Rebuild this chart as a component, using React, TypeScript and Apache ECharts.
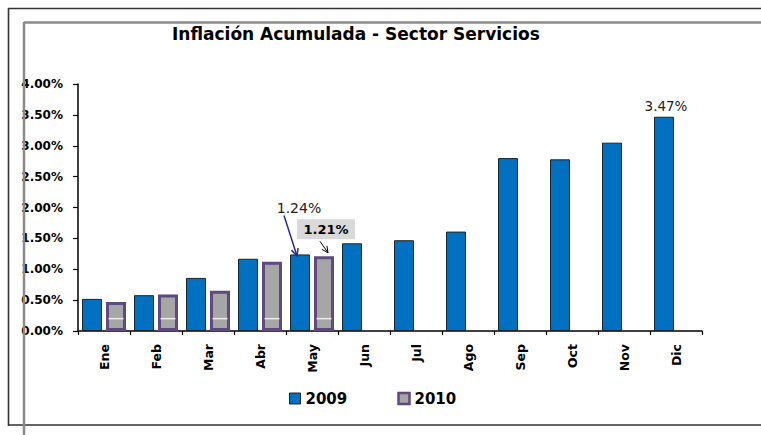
import React, { useEffect, useRef } from "react";
import * as echarts from "echarts";

const categories = ["Ene", "Feb", "Mar", "Abr", "May", "Jun", "Jul", "Ago", "Sep", "Oct", "Nov", "Dic"];
const values2009 = [0.52, 0.58, 0.86, 1.17, 1.24, 1.42, 1.47, 1.61, 2.8, 2.78, 3.05, 3.47];
const values2010 = [0.47, 0.59, 0.65, 1.12, 1.21];
const whiteMarks2010 = [0.2, 0.2, 0.2, 0.2, 0.2];
const yMin = 0;
const yMax = 4;
const yStep = 0.5;
const titleText = "Inflación Acumulada - Sector Servicios";
const seriesNames = ["2009", "2010"];

const FONT = "DejaVu Sans";
const BLUE = "#0070C0";
const GRAY = "#A6A6A6";
const PURPLE = "#5F4A7D";

function arrow(x1: number, y1: number, x2: number, y2: number, color: string, w: number, head: number) {
  const ang = Math.atan2(y2 - y1, x2 - x1);
  const a1 = ang + Math.PI - 0.45;
  const a2 = ang + Math.PI + 0.45;
  return [
    { type: "line", shape: { x1, y1, x2, y2 }, style: { stroke: color, lineWidth: w }, z: 20 },
    {
      type: "polyline",
      shape: {
        points: [
          [x2 + head * Math.cos(a1), y2 + head * Math.sin(a1)],
          [x2, y2],
          [x2 + head * Math.cos(a2), y2 + head * Math.sin(a2)],
        ],
      },
      style: { stroke: color, lineWidth: w, fill: null },
      z: 20,
    },
  ];
}

export default function App() {
  const ref = useRef<HTMLDivElement>(null);
  useEffect(() => {
    if (!ref.current) return;
    const chart = echarts.init(ref.current, null, { renderer: "svg" });
    const fmt = (v: number) => `${v.toFixed(2)}%`;
    chart.setOption({
      animation: false,
      backgroundColor: "#ffffff",
      title: {
        text: titleText,
        left: 172,
        top: 25,
        padding: 0,
        textStyle: { fontFamily: FONT, fontWeight: "bold", fontSize: 17, color: "#000" },
      },
      legend: {
        left: 284,
        top: 386,
        itemWidth: 11,
        itemHeight: 11,
        itemGap: 50,
        icon: "rect",
        textStyle: { fontFamily: FONT, fontWeight: "bold", fontSize: 15, color: "#000" },
        data: [
          { name: seriesNames[0], itemStyle: { borderWidth: 1, borderColor: "#222" } },
          { name: seriesNames[1], itemStyle: { borderWidth: 2.5, borderColor: PURPLE } },
        ],
      },
      grid: { left: 78, right: 59, top: 84, bottom: 104, containLabel: false },
      xAxis: {
        type: "category",
        data: categories,
        axisLine: { lineStyle: { color: "#000", width: 1.5 } },
        axisTick: { show: true, length: 4, lineStyle: { color: "#000", width: 1.2 } },
        axisLabel: {
          rotate: 90,
          margin: 13,
          fontFamily: FONT,
          fontWeight: "bold",
          fontSize: 12.5,
          color: "#000",
        },
      },
      yAxis: {
        type: "value",
        min: yMin,
        max: yMax,
        interval: yStep,
        axisLine: { show: true, lineStyle: { color: "#000", width: 1.5 } },
        axisTick: { show: true, length: 5, lineStyle: { color: "#000", width: 1.2 } },
        splitLine: { show: false },
        axisLabel: {
          margin: 15,
          fontFamily: FONT,
          fontWeight: "bold",
          fontSize: 12,
          color: "#000",
          formatter: (v: number) => fmt(v),
        },
      },
      series: [
        {
          name: seriesNames[0],
          type: "bar",
          barWidth: 20,
          barGap: "20%",
          itemStyle: { color: BLUE, borderColor: "#222", borderWidth: 1 },
          data: values2009.map((v, i) =>
            i === values2009.length - 1
              ? {
                  value: v,
                  label: {
                    show: true,
                    position: "top",
                    distance: 4,
                    offset: [2, 0],
                    fontFamily: FONT,
                    fontSize: 13.5,
                    color: "#222",
                    formatter: (p: any) => fmt(p.value),
                  },
                }
              : v
          ),
        },
        {
          name: seriesNames[1],
          type: "bar",
          barWidth: 20,
          barGap: "20%",
          itemStyle: { color: GRAY, borderColor: PURPLE, borderWidth: 3 },
          data: values2010,
        },
        {
          name: "marks",
          type: "scatter",
          symbol: "rect",
          symbolSize: [15, 1.5],
          symbolOffset: [12, 0],
          itemStyle: { color: "#ffffff" },
          z: 5,
          silent: true,
          data: whiteMarks2010,
        },
      ],
    });

    const p1 = chart.convertToPixel({ gridIndex: 0 }, [categories[4], values2009[4]]) as number[];
    const p2 = chart.convertToPixel({ gridIndex: 0 }, [categories[4], values2010[4]]) as number[];
    const b1x = p1[0] - 12;
    const b1y = p1[1];
    const b2x = p2[0] + 12;
    const b2y = p2[1];

    const graphic: any[] = [
      // outer frame
      { type: "line", shape: { x1: 8.5, y1: 8, x2: 8.5, y2: 426 }, style: { stroke: "#333", lineWidth: 1.6 }, z: 30 },
      { type: "line", shape: { x1: 8, y1: 8.5, x2: 761, y2: 8.5 }, style: { stroke: "#333", lineWidth: 1.6 }, z: 30 },
      { type: "line", shape: { x1: 8, y1: 425, x2: 761, y2: 425 }, style: { stroke: "#333", lineWidth: 1.6 }, z: 30 },
      // inner gray frame
      { type: "line", shape: { x1: 24, y1: 22.5, x2: 761, y2: 22.5 }, style: { stroke: "#8a8a8a", lineWidth: 2.5 }, z: 30 },
      { type: "line", shape: { x1: 24, y1: 22, x2: 24, y2: 435 }, style: { stroke: "#8a8a8a", lineWidth: 2.5 }, z: 30 },
      // 1.24% annotation
      {
        type: "text",
        x: b1x - 1,
        y: b1y - 46,
        style: {
          text: fmt(values2009[4]),
          fontFamily: FONT,
          fontSize: 14,
          fill: "#222",
          align: "center",
          verticalAlign: "middle",
        },
        z: 20,
      },
      ...arrow(b1x - 16, b1y - 39, b1x - 3, b1y + 1.5, "#2B2A8A", 1.5, 8),
      // 1.21% annotation
      {
        type: "rect",
        shape: { x: b2x - 27, y: b2y - 37, width: 58, height: 20 },
        style: { fill: "#D9D9D9" },
        z: 19,
      },
      {
        type: "text",
        x: b2x + 2,
        y: b2y - 27,
        style: {
          text: fmt(values2010[4]),
          fontFamily: FONT,
          fontWeight: "bold",
          fontSize: 13,
          fill: "#000",
          align: "center",
          verticalAlign: "middle",
        },
        z: 20,
      },
      ...arrow(b2x - 4, b2y - 15, b2x + 4, b2y - 3.5, "#000", 1, 7),
    ];
    chart.setOption({ graphic });

    return () => chart.dispose();
  }, []);

  return (
    <div
      ref={ref}
      style={{ position: "fixed", left: 0, top: 0, width: 761, height: 435, background: "#fff" }}
    />
  );
}
